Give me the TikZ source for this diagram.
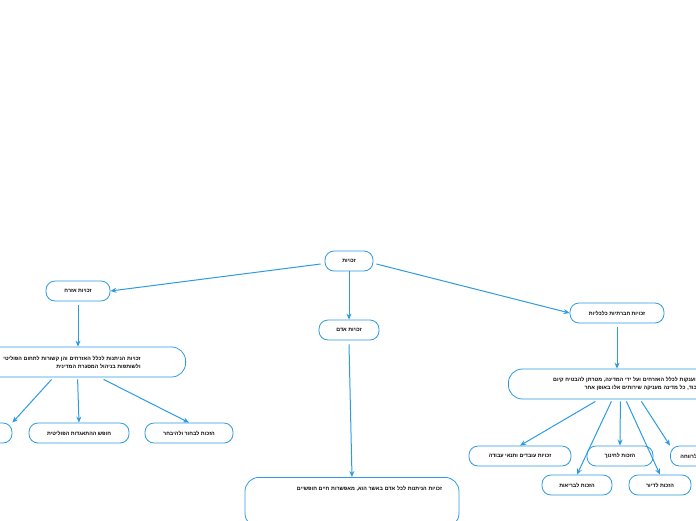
\documentclass[tikz,border=0pt]{standalone}
\usepackage{fontspec}
\setmainfont{Liberation Sans}
\TeXXeTstate=1
\usetikzlibrary{positioning,arrows.meta}
\definecolor{mapblue}{HTML}{2D9BE0}
\newcommand{\rl}[1]{\beginR #1\endR}
\begin{document}
\begin{tikzpicture}
  [x=1pt,y=-1pt,
   topic/.style={rectangle, rounded corners=9pt, draw=mapblue, fill=white,
     line width=0.8pt, font=\fontsize{5.3}{8}\selectfont\bfseries,
     minimum height=20pt, inner xsep=8pt},
   link/.style={-{Stealth[length=6pt,width=5pt]}, draw=mapblue, line width=1pt}]
  \useasboundingbox (0,0) rectangle (696,520);

  \node[topic, minimum width=48pt] (root) at (349,261) {\rl{זכויות}};
  \node[topic, minimum width=64pt] (civil) at (78,291) {\rl{זכויות אזרח}};
  \node[topic, minimum width=60pt] (human) at (349,330) {\rl{זכויות אדם}};
  \node[topic, minimum width=94pt] (social) at (617,313) {\rl{זכויות חברתיות כלכליות}};

  \node[topic, minimum width=240pt, minimum height=30pt, align=right,
        rounded corners=14pt, text width=150pt, anchor=east] (civildesc) at (186,362)
    {\rl{זכויות הניתנות לכלל האזרחים והן קשורות לתחום הפוליטי}\\
     \rl{ולשותפות בניהול המסגרת המדינית}};
  \node[topic, minimum width=44pt] (civleft) at (-10,433) {};
  \node[topic, minimum width=100pt] (assoc) at (79,433) {\rl{חופש ההתאגדות הפוליטית}};
  \node[topic, minimum width=88pt] (vote) at (189,433) {\rl{הזכות לבחור ולהיבחר}};

  \node[topic, minimum width=214pt, minimum height=50pt, align=right,
        anchor=north, rounded corners=14pt, text width=180pt, text depth=28pt]
        (humandesc) at (352,477)
    {\rl{זכויות הניתנות לכל אדם באשר הוא, מאפשרות חיים חופשיים}};

  \node[topic, minimum width=250pt, minimum height=30pt, align=right,
        rounded corners=14pt, text width=170pt, anchor=west] (socialdesc) at (508,384)
    {\rl{זכויות המוענקות לכלל האזרחים ועל ידי המדינה, מטרתן להבטיח קיום}\\
     \rl{אנושי בכבוד, כל מדינה מעניקה שירותים אלו באופן אחר}};
  \node[topic, minimum width=102pt] (labor) at (520,456) {\rl{זכויות עובדים ותנאי עבודה}};
  \node[topic, minimum width=66pt] (educ) at (620,456) {\rl{הזכות לחינוך}};
  \node[topic, minimum width=52pt, anchor=west] (welfare) at (670,456) {\rl{הזכות לרווחה}};
  \node[topic, minimum width=70pt] (health) at (577,485) {\rl{הזכות לבריאות}};
  \node[topic, minimum width=62pt] (house) at (660,485) {\rl{הזכות לדיור}};

  \draw[link] (root.west) ++(-4,3) -- (civil.east);
  \draw[link] (root) -- (human);
  \draw[link] (root.east) ++(3,3) -- (social.west);
  \draw[link] (civil.south) ++(0,4) -- (civil.south |- civildesc.north);
  \draw[link] (civildesc.south) ++(-14,2) -- (civleft.north east);
  \draw[link] (civildesc.south) ++(12,2) -- (assoc.north);
  \draw[link] (civildesc.south) ++(38,2) -- (vote.north);
  \draw[link] (human.south) ++(0,4) -- (humandesc.north);
  \draw[link] (social.south) ++(0,4) -- (social.south |- socialdesc.north);
  \draw[link] (socialdesc.south) ++(-38,2) -- (labor.north);
  \draw[link] (socialdesc.south) ++(-22,2) -- (health.north);
  \draw[link] (socialdesc.south) ++(-13,2) -- (educ.north);
  \draw[link] (socialdesc.south) ++(-7,2) -- (house.north);
  \draw[link] (socialdesc.south) ++(8,2) -- (welfare.north west);
\end{tikzpicture}
\end{document}
